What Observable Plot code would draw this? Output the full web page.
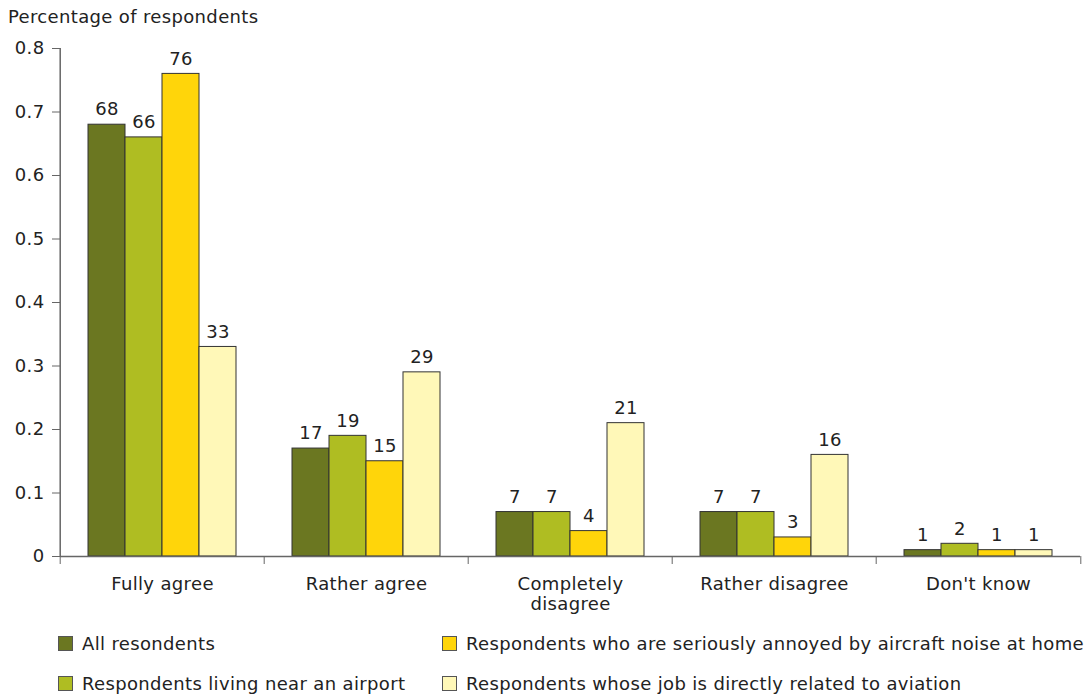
<!DOCTYPE html>
<html><head><meta charset="utf-8">
<script src="https://cdn.jsdelivr.net/npm/d3@7"></script>
<script src="https://cdn.jsdelivr.net/npm/@observablehq/plot@0.6"></script>
<style>
body{margin:0;font-family:"DejaVu Sans",Verdana,sans-serif;background:#fff;color:#222;}
#wrap{position:relative;width:1088px;height:695px;}
#title{position:absolute;left:8px;top:6px;font-size:18px;letter-spacing:0.35px;}
.item{position:absolute;display:flex;align-items:center;font-size:18px;letter-spacing:0.35px;white-space:nowrap;}
.sw{width:13px;height:13px;border:1px solid #555;margin-right:9px;flex:none;}
</style></head><body>
<div id="wrap"><div id="chart"></div><div id="title">Percentage of respondents</div><div id="legend"></div></div>
<script>
const categories = ["Fully agree", "Rather agree", "Completely disagree", "Rather disagree", "Don't know"];
const series = [
  "All resondents",
  "Respondents living near an airport",
  "Respondents who are seriously annoyed by aircraft noise at home",
  "Respondents whose job is directly related to aviation"
];
const allRespondents = [0.68, 0.17, 0.07, 0.07, 0.01];
const nearAirport    = [0.66, 0.19, 0.07, 0.07, 0.02];
const annoyedAtHome  = [0.76, 0.15, 0.04, 0.03, 0.01];
const aviationJob    = [0.33, 0.29, 0.21, 0.16, 0.01];
const colors = ["#6b7721", "#afbd22", "#ffd50a", "#fff8b8"];
const yTicks = [0, 0.1, 0.2, 0.3, 0.4, 0.5, 0.6, 0.7, 0.8];

const seriesValues = [allRespondents, nearAirport, annoyedAtHome, aviationJob];
const data = [];
categories.forEach((c, i) => series.forEach((s, j) => data.push({category: c, series: s, value: seriesValues[j][i]})));

const W = 1088, mL = 58, mR = 7;
const bw = (W - mL - mR) / categories.length;
const axisColor = "#666";

const chart = Plot.plot({
  width: W, height: 620,
  marginTop: 48, marginBottom: 64, marginLeft: mL, marginRight: mR,
  style: {fontFamily: "'DejaVu Sans', Verdana, sans-serif", fontSize: "18px", letterSpacing: "0.35px", color: "#222", background: "white"},
  fx: {domain: categories, padding: 0, axis: null},
  x: {domain: series, paddingInner: 0, paddingOuter: 0.72, axis: null},
  y: {domain: [0, 0.8], axis: null},
  color: {domain: series, range: colors},
  marks: [
    Plot.barY(data, {fx: "category", x: "series", y: "value", fill: "series", stroke: "#333", strokeWidth: 1}),
    Plot.text(data, {fx: "category", x: "series", y: "value", text: d => Math.round(d.value * 100), dy: -15, fill: "#222"}),
    Plot.ruleY([0], {stroke: axisColor, strokeWidth: 1.5}),
    Plot.axisY({ticks: yTicks, tickSize: 8, tickPadding: 8, tickFormat: d => String(d), stroke: axisColor, fill: "#222", label: null}),
    Plot.ruleX([categories[0]], {fx: d => d, x: null, y1: 0, y2: 0.8, dx: -bw / 2, stroke: axisColor, strokeWidth: 1.5}),
    Plot.axisFx({anchor: "bottom", label: null, tickSize: 8, tickFormat: () => "", dx: -bw / 2, stroke: axisColor}),
    Plot.axisFx({anchor: "bottom", label: null, ticks: [categories[categories.length - 1]], tickSize: 8, tickFormat: () => "", dx: bw / 2, stroke: axisColor}),
    Plot.axisFx({anchor: "bottom", label: null, tickSize: 0, tickPadding: 19, lineHeight: 1.12, tickFormat: d => d.length > 16 ? d.replace(" ", "\n") : d, fill: "#222"})
  ]
});
document.getElementById("chart").appendChild(chart);

const legendPos = [[58, 633], [58, 673], [442, 633], [442, 673]];
const legend = document.getElementById("legend");
series.forEach((s, i) => {
  const item = document.createElement("div");
  item.className = "item";
  item.style.left = legendPos[i][0] + "px";
  item.style.top = legendPos[i][1] + "px";
  item.innerHTML = `<span class="sw" style="background:${colors[i]}"></span><span>${s}</span>`;
  legend.appendChild(item);
});
</script>
</body></html>
